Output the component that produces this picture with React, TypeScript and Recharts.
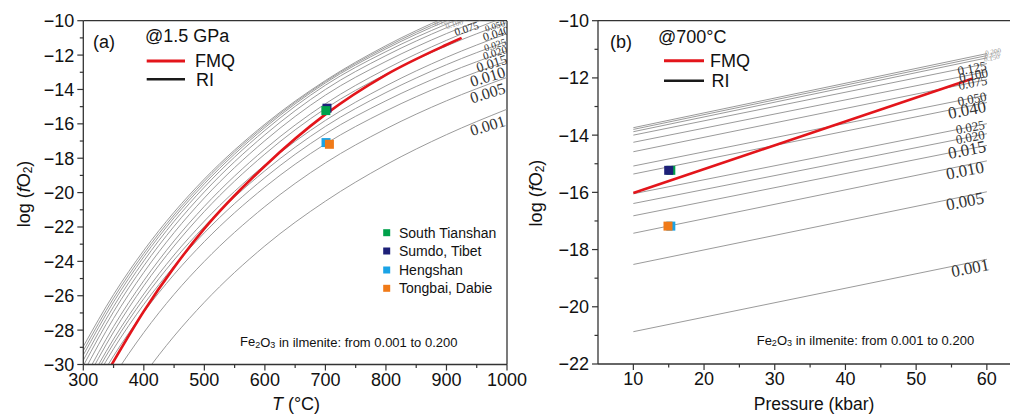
import React from 'react';
import { ComposedChart, Line, Scatter, XAxis, YAxis, ReferenceLine } from 'recharts';

// Fe2O3 content of ilmenite for each RI curve
const fe2o3 = ['0.001', '0.005', '0.010', '0.015', '0.020', '0.025', '0.040', '0.050', '0.075', '0.100', '0.125', '0.150', '0.175', '0.200'];

// (a) @1.5 GPa: log fO2 of each RI curve at these temperatures (°C)
const tempC = [300, 350, 400, 450, 500, 600, 700, 800, 900, 1000];
const riVsT = [
  [-36.35, -33.26, -30.62, -28.35, -26.38, -23.1, -20.5, -18.38, -16.63, -15.15],
  [-33.72, -30.71, -28.14, -25.92, -24.0, -20.81, -18.27, -16.29, -14.66, -13.3],
  [-32.49, -29.5, -26.95, -24.76, -22.85, -19.68, -17.17, -15.25, -13.67, -12.35],
  [-32.12, -29.09, -26.5, -24.28, -22.34, -19.13, -16.58, -14.66, -13.07, -11.75],
  [-31.84, -28.78, -26.17, -23.92, -21.97, -18.73, -16.15, -14.18, -12.56, -11.2],
  [-31.61, -28.52, -25.9, -23.63, -21.66, -18.39, -15.8, -13.79, -12.13, -10.75],
  [-31.26, -28.11, -25.42, -23.11, -21.1, -17.76, -15.11, -13.11, -11.47, -10.1],
  [-30.94, -27.79, -25.12, -22.81, -20.8, -17.47, -14.83, -12.81, -11.14, -9.75],
  [-30.48, -27.32, -24.64, -22.33, -20.31, -16.98, -14.33, -12.37, -10.75, -9.4],
  [-30.07, -26.93, -24.26, -21.96, -19.96, -16.64, -14.0, -12.03, -10.41, -9.05],
  [-29.75, -26.63, -23.97, -21.67, -19.68, -16.38, -13.75, -11.8, -10.2, -8.85],
  [-29.45, -26.36, -23.73, -21.46, -19.49, -16.22, -13.62, -11.64, -10.01, -8.65],
  [-29.2, -26.14, -23.54, -21.3, -19.34, -16.11, -13.54, -11.54, -9.89, -8.5],
  [-28.95, -25.93, -23.36, -21.14, -19.21, -16.02, -13.48, -11.45, -9.78, -8.38],
];
const fmqT = [347, 400, 450, 500, 600, 700, 800, 900, 925];
const fmqVsT = [-30, -26.9, -24.35, -22.1, -18.45, -15.45, -13.15, -11.4, -11.0];

// (b) @700 °C: RI lines from 10 to 60 kbar
const pressureKbar = [10, 60];
const riVsP = [
  [-20.87, -18.34],
  [-18.52, -15.98],
  [-17.43, -14.9],
  [-16.82, -14.36],
  [-16.39, -13.95],
  [-16.05, -13.6],
  [-15.36, -12.86],
  [-15.08, -12.6],
  [-14.58, -12.06],
  [-14.25, -11.78],
  [-14.0, -11.5],
  [-13.88, -11.3],
  [-13.8, -11.22],
  [-13.74, -11.15],
];
const fmqP = [10, 58];
const fmqVsP = [-16.02, -12.02];

// curve labels (text centres)
const leftLabelT = [968, 968, 968, 975, 980, 980, 982, 980, 933, 913, 893];
const leftLabelV = [-16.1, -14.2, -13.25, -12.5, -11.85, -11.4, -10.75, -10.3, -10.45, -10.2, -10.1];
const rightLabelP = [57.65, 56.9, 56.9, 57.2, 57.65, 57.65, 57.2, 57.9, 58.0, 58.1, 57.9, 60.7, 60.8, 60.9];
const rightLabelV = [-18.65, -16.32, -15.24, -14.52, -14.07, -13.72, -13.12, -12.73, -12.17, -11.9, -11.66, -11.31, -11.2, -11.1];

// samples
const sampleNames = ['South Tianshan', 'Sumdo, Tibet', 'Hengshan', 'Tongbai, Dabie'];
const sampleColors = ['#00a14b', '#1d2078', '#1aa3e6', '#f07a18'];
const sampleT = [700.7, 702.6, 701, 706.6];
const sampleTfO2 = [-15.23, -15.09, -17.09, -17.19];
const sampleP = [15.3, 15.0, 15.3, 14.9];
const samplePfO2 = [-15.23, -15.23, -17.18, -17.18];

// ticks
const leftXTicks = [300, 350, 400, 450, 500, 550, 600, 650, 700, 750, 800, 850, 900, 950, 1000];
const leftYTicks = [-30, -29, -28, -27, -26, -25, -24, -23, -22, -21, -20, -19, -18, -17, -16, -15, -14, -13, -12, -11, -10];
const rightXTicks = [10, 15, 20, 25, 30, 35, 40, 45, 50, 55, 60, 65];
const rightYTicks = [-22, -21, -20, -19, -18, -17, -16, -15, -14, -13, -12, -11, -10];

const SANS = '"Liberation Sans", Arial, sans-serif';
const SERIF = '"Liberation Serif", "Times New Roman", serif';
const AXIS = '#333';
const GRAY = '#8f8f8f';
const RED = '#e3151b';

const leftLabelSize = [16, 16, 16, 14, 11, 10, 12, 9, 11, 8, 7];
const rightLabelSize = [17, 17, 17, 17, 13, 13, 17, 13, 13, 13, 13, 7, 7, 7];

const minus = (v: number) => String(v).replace('-', '\u2212');

function makeXTick(majorStep: number) {
  return (props: any) => {
    const { x, y, payload } = props;
    const major = payload.value % majorStep === 0;
    return (
      <g>
        <line x1={x} x2={x} y1={y} y2={y + (major ? 6 : 3.5)} stroke={AXIS} strokeWidth={1.2} />
        {major && (
          <text x={x} y={y + 21} textAnchor="middle" fontSize={18} fontFamily={SANS} fill="#111">
            {payload.value}
          </text>
        )}
      </g>
    );
  };
}

function yTick(props: any) {
  const { x, y, payload } = props;
  const major = payload.value % 2 === 0;
  return (
    <g>
      <line x1={x} x2={x - (major ? 6 : 3.5)} y1={y} y2={y} stroke={AXIS} strokeWidth={1.2} />
      {major && (
        <text x={x - 9} y={y} dy="0.36em" textAnchor="end" fontSize={18} fontFamily={SANS} fill="#111">
          {minus(payload.value)}
        </text>
      )}
    </g>
  );
}

function labelShape(angle: number, sizes: number[]) {
  return (props: any) => {
    const { cx, cy, payload } = props;
    const size = sizes[payload.i];
    return (
      <text
        x={cx}
        y={cy}
        transform={`rotate(${angle} ${cx} ${cy})`}
        textAnchor="middle"
        dominantBaseline="central"
        fontFamily={SERIF}
        fontSize={size}
        fill={size < 9 ? '#999' : '#333'}
      >
        {payload.label}
      </text>
    );
  };
}

function squareShape(props: any) {
  const { cx, cy, payload } = props;
  return <rect x={cx - 4.5} y={cy - 4.5} width={9} height={9} fill={sampleColors[payload.i]} />;
}

const leftOrder = [1, 0, 2, 3];
const rightOrder = [0, 1, 2, 3];

function LeftPanel() {
  const fmqRows = fmqT.map((t, j) => ({ t, v: fmqVsT[j] }));
  const labelRows = leftLabelT.map((t, i) => ({ t, v: leftLabelV[i], i, label: fe2o3[i] }));
  const sampleRows = leftOrder.map((i) => ({ t: sampleT[i], v: sampleTfO2[i], i }));
  return (
    <ComposedChart width={540} height={414} margin={{ top: 20.7, right: 33, bottom: 0, left: 0 }}>
      <XAxis
        dataKey="t"
        type="number"
        domain={[300, 1000]}
        ticks={leftXTicks}
        interval={0}
        allowDataOverflow
        height={49.5}
        tickSize={0}
        tickMargin={0}
        tickLine={false}
        tick={makeXTick(100)}
        axisLine={{ stroke: AXIS, strokeWidth: 1.3 }}
      />
      <YAxis
        type="number"
        domain={[-30, -10]}
        ticks={leftYTicks}
        interval={0}
        allowDataOverflow
        width={83.3}
        tickSize={0}
        tickMargin={0}
        tickLine={false}
        tick={yTick}
        axisLine={{ stroke: AXIS, strokeWidth: 1.3 }}
      />
      <ReferenceLine y={-10} stroke={AXIS} strokeWidth={1.3} />
      <ReferenceLine x={1000} stroke={AXIS} strokeWidth={1.3} />
      {riVsT.map((vals, k) => (
        <Line
          key={fe2o3[k]}
          data={tempC.map((t, j) => ({ t, v: vals[j] }))}
          dataKey="v"
          type="monotone"
          stroke={GRAY}
          strokeWidth={0.9}
          dot={false}
          isAnimationActive={false}
        />
      ))}
      <Line data={fmqRows} dataKey="v" type="monotone" stroke={RED} strokeWidth={2.6} dot={false} isAnimationActive={false} />
      <Scatter data={labelRows} dataKey="v" shape={labelShape(-17, leftLabelSize)} isAnimationActive={false} />
      <Scatter data={sampleRows} dataKey="v" shape={squareShape} isAnimationActive={false} />
    </ComposedChart>
  );
}

function RightPanel() {
  const fmqRows = fmqP.map((t, j) => ({ t, v: fmqVsP[j] }));
  const labelRows = rightLabelP.map((t, i) => ({ t, v: rightLabelV[i], i, label: fe2o3[i] }));
  const sampleRows = rightOrder.map((i) => ({ t: sampleP[i], v: samplePfO2[i], i }));
  return (
    <ComposedChart width={520} height={414} margin={{ top: 20.7, right: 7.8, bottom: 0, left: 0 }}>
      <XAxis
        dataKey="t"
        type="number"
        domain={[5, 65]}
        ticks={rightXTicks}
        interval={0}
        allowDataOverflow
        height={50}
        tickSize={0}
        tickMargin={0}
        tickLine={false}
        tick={makeXTick(10)}
        axisLine={{ stroke: AXIS, strokeWidth: 1.3 }}
      />
      <YAxis
        type="number"
        domain={[-22, -10]}
        ticks={rightYTicks}
        interval={0}
        allowDataOverflow
        width={88}
        tickSize={0}
        tickMargin={0}
        tickLine={false}
        tick={yTick}
        axisLine={{ stroke: AXIS, strokeWidth: 1.3 }}
      />
      <ReferenceLine y={-10} stroke={AXIS} strokeWidth={1.3} />
      {riVsP.map((vals, k) => (
        <Line
          key={fe2o3[k]}
          data={pressureKbar.map((t, j) => ({ t, v: vals[j] }))}
          dataKey="v"
          type="linear"
          stroke={GRAY}
          strokeWidth={0.9}
          dot={false}
          isAnimationActive={false}
        />
      ))}
      <Line data={fmqRows} dataKey="v" type="linear" stroke={RED} strokeWidth={2.6} dot={false} isAnimationActive={false} />
      <Scatter data={labelRows} dataKey="v" shape={labelShape(-11, rightLabelSize)} isAnimationActive={false} />
      <Scatter data={sampleRows} dataKey="v" shape={squareShape} isAnimationActive={false} />
    </ComposedChart>
  );
}

function FO2Label({ x, y }: { x: number; y: number }) {
  return (
    <text
      transform={`rotate(-90 ${x} ${y})`}
      x={x}
      y={y}
      textAnchor="middle"
      dominantBaseline="central"
      fontSize={18}
      fontFamily={SANS}
      fill="#111"
    >
      log (<tspan fontStyle="italic">f</tspan>O
      <tspan fontSize={12} dy={4}>2</tspan>
      <tspan dy={-4}>)</tspan>
    </text>
  );
}

function Note({ x, y }: { x: number; y: number }) {
  return (
    <text x={x} y={y} dominantBaseline="central" fontSize={13} fontFamily={SANS} fill="#111">
      Fe<tspan fontSize={9} dy={3}>2</tspan>
      <tspan dy={-3}>O</tspan>
      <tspan fontSize={9} dy={3}>3</tspan>
      <tspan dy={-3}> in ilmenite: from 0.001 to 0.200</tspan>
    </text>
  );
}

function Overlay() {
  const legendY = [232.7, 251, 270, 288.3];
  return (
    <svg width={1010} height={414} style={{ position: 'absolute', left: 0, top: 0, pointerEvents: 'none' }}>
      <g fontFamily={SANS} fill="#111" fontSize={18}>
        {/* panel (a) */}
        <text x={93} y={41.7} dominantBaseline="central">(a)</text>
        <text x={145} y={36} dominantBaseline="central">@1.5 GPa</text>
        <line x1={146.7} x2={185} y1={61} y2={61} stroke={RED} strokeWidth={3} />
        <text x={195} y={61} dominantBaseline="central">FMQ</text>
        <line x1={146.7} x2={185} y1={79.3} y2={79.3} stroke="#1a1a1a" strokeWidth={2.4} />
        <text x={196} y={79.8} dominantBaseline="central">RI</text>
        {/* panel (b) */}
        <text x={610} y={41.7} dominantBaseline="central">(b)</text>
        <text x={658} y={37.3} dominantBaseline="central">@700°C</text>
        <line x1={664} x2={704} y1={60.7} y2={60.7} stroke={RED} strokeWidth={3} />
        <text x={710} y={60.7} dominantBaseline="central">FMQ</text>
        <line x1={664} x2={704} y1={80.7} y2={80.7} stroke="#1a1a1a" strokeWidth={2.4} />
        <text x={711.5} y={81.2} dominantBaseline="central">RI</text>
      </g>
      {sampleNames.map((name, i) => (
        <g key={name}>
          <rect x={383.2} y={legendY[i] - 3.5} width={7} height={7} fill={sampleColors[i]} />
          <text x={399} y={legendY[i]} dominantBaseline="central" fontSize={14} fontFamily={SANS} fill="#111">
            {name}
          </text>
        </g>
      ))}
      <Note x={240} y={341.7} />
      <Note x={756.7} y={340} />
      <text x={296} y={404} textAnchor="middle" dominantBaseline="central" fontSize={18} fontFamily={SANS} fill="#111">
        <tspan fontStyle="italic">T</tspan> (°C)
      </text>
      <text x={814} y={404} textAnchor="middle" dominantBaseline="central" fontSize={17.5} fontFamily={SANS} fill="#111">
        Pressure (kbar)
      </text>
      <FO2Label x={24} y={194} />
      <FO2Label x={536} y={193} />
    </svg>
  );
}

export default function App() {
  return (
    <div
      style={{
        position: 'fixed',
        left: 0,
        top: 0,
        width: 1010,
        height: 414,
        overflow: 'hidden',
        background: '#fff',
      }}
    >
      <div style={{ position: 'absolute', left: 0, top: 0 }}>
        <LeftPanel />
      </div>
      <div style={{ position: 'absolute', left: 510, top: 0, width: 500, overflow: 'hidden' }}>
        <RightPanel />
      </div>
      <Overlay />
    </div>
  );
}
